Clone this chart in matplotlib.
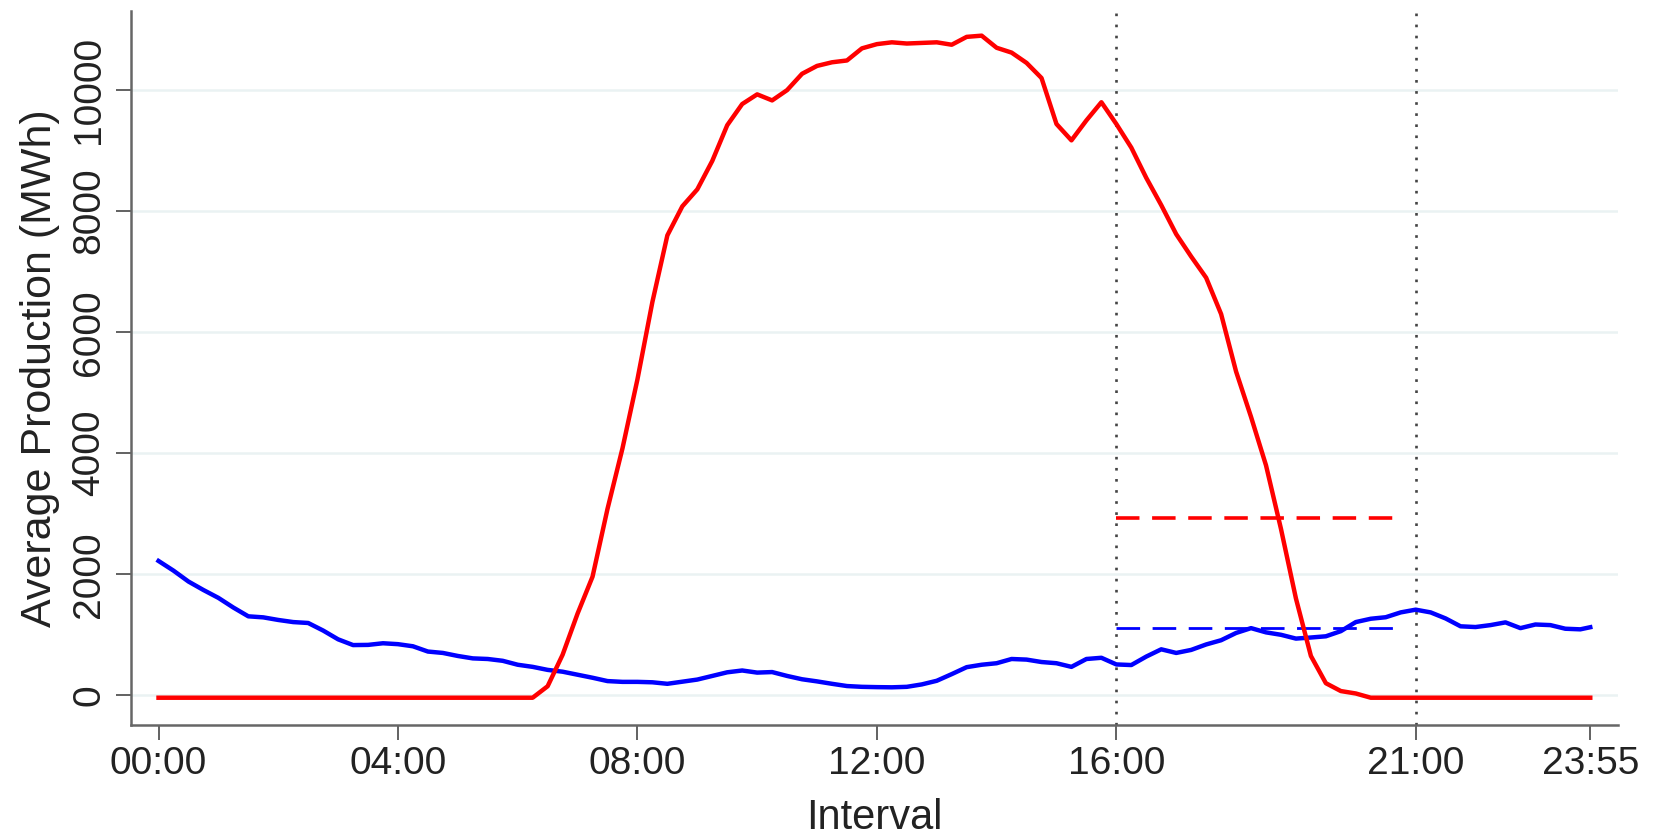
import matplotlib
matplotlib.use('Agg')
import matplotlib.pyplot as plt

plt.rcParams['font.family'] = ['Liberation Sans', 'DejaVu Sans']

# 15-minute intervals (minutes after midnight), last one is 23:55
minutes = list(range(0, 1440, 15)) + [1435]

red_mwh = [
    -40, -40, -40, -40, -40, -40, -40, -40,          # 00:00-01:45
    -40, -40, -40, -40, -40, -40, -40, -40,          # 02:00-03:45
    -40, -40, -40, -40, -40, -40, -40, -40,          # 04:00-05:45
    -40, -40, 150, 670, 1350, 1960, 3080, 4080,      # 06:00-07:45
    5220, 6500, 7600, 8080, 8360, 8830, 9420, 9770,  # 08:00-09:45
    9930, 9830, 10000, 10270, 10400, 10460, 10490, 10690,   # 10:00-11:45
    10760, 10790, 10770, 10780, 10790, 10750, 10880, 10900,  # 12:00-13:45
    10700, 10620, 10450, 10200, 9440, 9170, 9500, 9800,      # 14:00-15:45
    9440, 9050, 8550, 8100, 7620, 7250, 6900, 6300,  # 16:00-17:45
    5350, 4600, 3800, 2750, 1600, 650, 200, 70,      # 18:00-19:45
    30, -40, -40, -40, -40, -40, -40, -40,           # 20:00-21:45
    -40, -40, -40, -40, -40, -40, -40, -40,          # 22:00-23:45
    -40,                                             # 23:55
]

blue_mwh = [
    2220, 2060, 1880, 1740, 1610, 1450, 1305, 1288,
    1245, 1210, 1195, 1070, 925, 830, 833, 860,
    845, 810, 723, 700, 650, 610, 600, 570,
    505, 470, 420, 390, 340, 290, 235, 222,
    222, 215, 190, 225, 260, 320, 380, 410,
    375, 384, 320, 265, 230, 190, 153, 140,
    135, 132, 140, 180, 240, 350, 465, 505,
    530, 600, 590, 550, 530, 470, 600, 620,
    510, 500, 640, 760, 700, 750, 840, 910,
    1030, 1110, 1040, 1000, 937, 955, 975, 1060,
    1210, 1265, 1290, 1370, 1415, 1370, 1270, 1140,
    1128, 1160, 1205, 1110, 1170, 1160, 1100, 1090,
    1125,
]

# window 16:00-21:00, averages drawn 16:00-20:45
window = [960, 1260]
avg_span = [960, 1245]
red_avg = 2930
blue_avg = 1120

tick_minutes = [0, 240, 480, 720, 960, 1260, 1435]
tick_labels = ['00:00', '04:00', '08:00', '12:00', '16:00', '21:00', '23:55']
y_ticks = [0, 2000, 4000, 6000, 8000, 10000]

fig = plt.figure(figsize=(16.58, 8.39), dpi=100)
ax = fig.add_axes([0.079, 0.136, 0.897, 0.851])

for v in y_ticks:
    ax.axhline(v, color='#EAF2F3', lw=1.8, zorder=0)

for m in window:
    ax.axvline(m, color='#444444', lw=1.9, linestyle=(0, (1, 3.2)), zorder=1)

ax.plot(avg_span, [blue_avg, blue_avg], color='blue', lw=2.0,
        dashes=(8.5, 4.5), zorder=2)
ax.plot(avg_span, [red_avg, red_avg], color='red', lw=2.6,
        dashes=(6.5, 3.5), zorder=2)

ax.plot(minutes, blue_mwh, color='blue', lw=3.2, zorder=3)
ax.plot(minutes, red_mwh, color='red', lw=3.2, zorder=4)

ax.set_xlim(-27.6, 1463)
ax.set_ylim(-489, 11309)

ax.set_xticks(tick_minutes)
ax.set_xticklabels(tick_labels)
ax.set_yticks(y_ticks)
ax.set_yticklabels([str(v) for v in y_ticks], rotation=90, va='center')

ax.tick_params(axis='both', length=11, width=1.3, color='#555555',
               labelsize=28, labelcolor='#222222')
ax.tick_params(axis='x', pad=4)
ax.tick_params(axis='y', pad=6)

for s in ['top', 'right']:
    ax.spines[s].set_visible(False)
for s in ['left', 'bottom']:
    ax.spines[s].set_color('#666666')
    ax.spines[s].set_linewidth(1.8)

ax.set_xlabel('Interval', fontsize=30, color='#222222', labelpad=12)
ax.set_ylabel('Average Production (MWh)', fontsize=31, color='#222222',
              labelpad=8)

fig.savefig('out.png', dpi=100)
